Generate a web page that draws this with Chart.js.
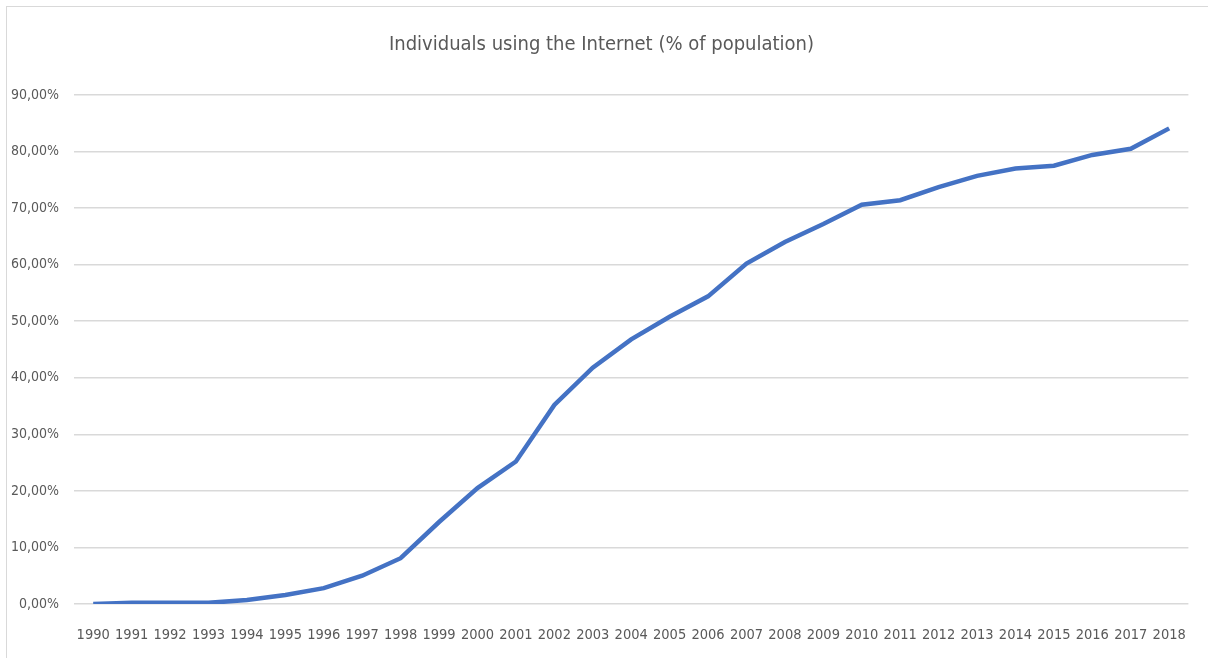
<!DOCTYPE html>
<html>
<head>
<meta charset="utf-8">
<script src="https://cdn.jsdelivr.net/npm/chart.js@4/dist/chart.umd.min.js"></script>
<style>
  html, body { margin: 0; padding: 0; background: #fff; }
  #frame {
    position: absolute; left: 6px; top: 6px;
    width: 1202px; height: 652px;
    border-left: 1px solid #d9d9d9; border-top: 1px solid #d9d9d9;
  }
</style>
</head>
<body>
<div id="frame"><canvas id="chart" width="1202" height="652"></canvas></div>
<script>
const years = [
    '1990', '1991', '1992', '1993', '1994', '1995', '1996', '1997', '1998', '1999',
    '2000', '2001', '2002', '2003', '2004', '2005', '2006', '2007', '2008', '2009',
    '2010', '2011', '2012', '2013', '2014', '2015', '2016', '2017', '2018'
];
// % of population
const internetUsers = [
    0.0, 0.2, 0.2, 0.2, 0.7, 1.6, 2.8, 5.0, 8.1, 14.5,
    20.5, 25.2, 35.2, 41.8, 46.8, 50.8, 54.4, 60.2, 64.0, 67.2,
    70.6, 71.4, 73.7, 75.7, 77.0, 77.5, 79.4, 80.5, 84.1
];
const chartTitle = 'Individuals using the Internet (% of population)';

const textFont = "'Liberation Sans Narrow', 'DejaVu Sans Condensed', 'Roboto', sans-serif";
const textColor = '#595959';

new Chart(document.getElementById('chart'), {
    type: 'line',
    data: {
        labels: years,
        datasets: [{
            label: chartTitle,
            data: internetUsers,
            borderColor: '#4472c4',
            borderWidth: 4.5,
            pointRadius: 0,
            tension: 0,
            fill: false
        }]
    },
    options: {
        responsive: false,
        animation: false,
        layout: { padding: { left: 0, right: 13, top: 0, bottom: 0 } },
        plugins: {
            legend: { display: false },
            tooltip: { enabled: false },
            title: {
                display: true,
                text: chartTitle,
                color: textColor,
                font: { family: textFont, size: 20, weight: 'normal' },
                padding: { top: 26, bottom: 38 }
            }
        },
        scales: {
            x: {
                offset: true,
                grid: { display: false, drawTicks: false },
                border: { display: false },
                ticks: {
                    color: textColor,
                    font: { family: textFont, size: 14.5 },
                    padding: 23,
                    maxRotation: 0,
                    autoSkip: false
                },
                afterFit: (scale) => { scale.height = 55; }
            },
            y: {
                min: 0,
                max: 90,
                grid: { color: '#d9d9d9', lineWidth: 1.6, drawTicks: false },
                border: { display: false },
                ticks: {
                    stepSize: 10,
                    color: textColor,
                    font: { family: textFont, size: 14 },
                    padding: 15,
                    callback: (v) => v.toFixed(2).replace('.', ',') + '%'
                },
                afterFit: (scale) => { scale.width = 67; }
            }
        }
    }
});
</script>
</body>
</html>
